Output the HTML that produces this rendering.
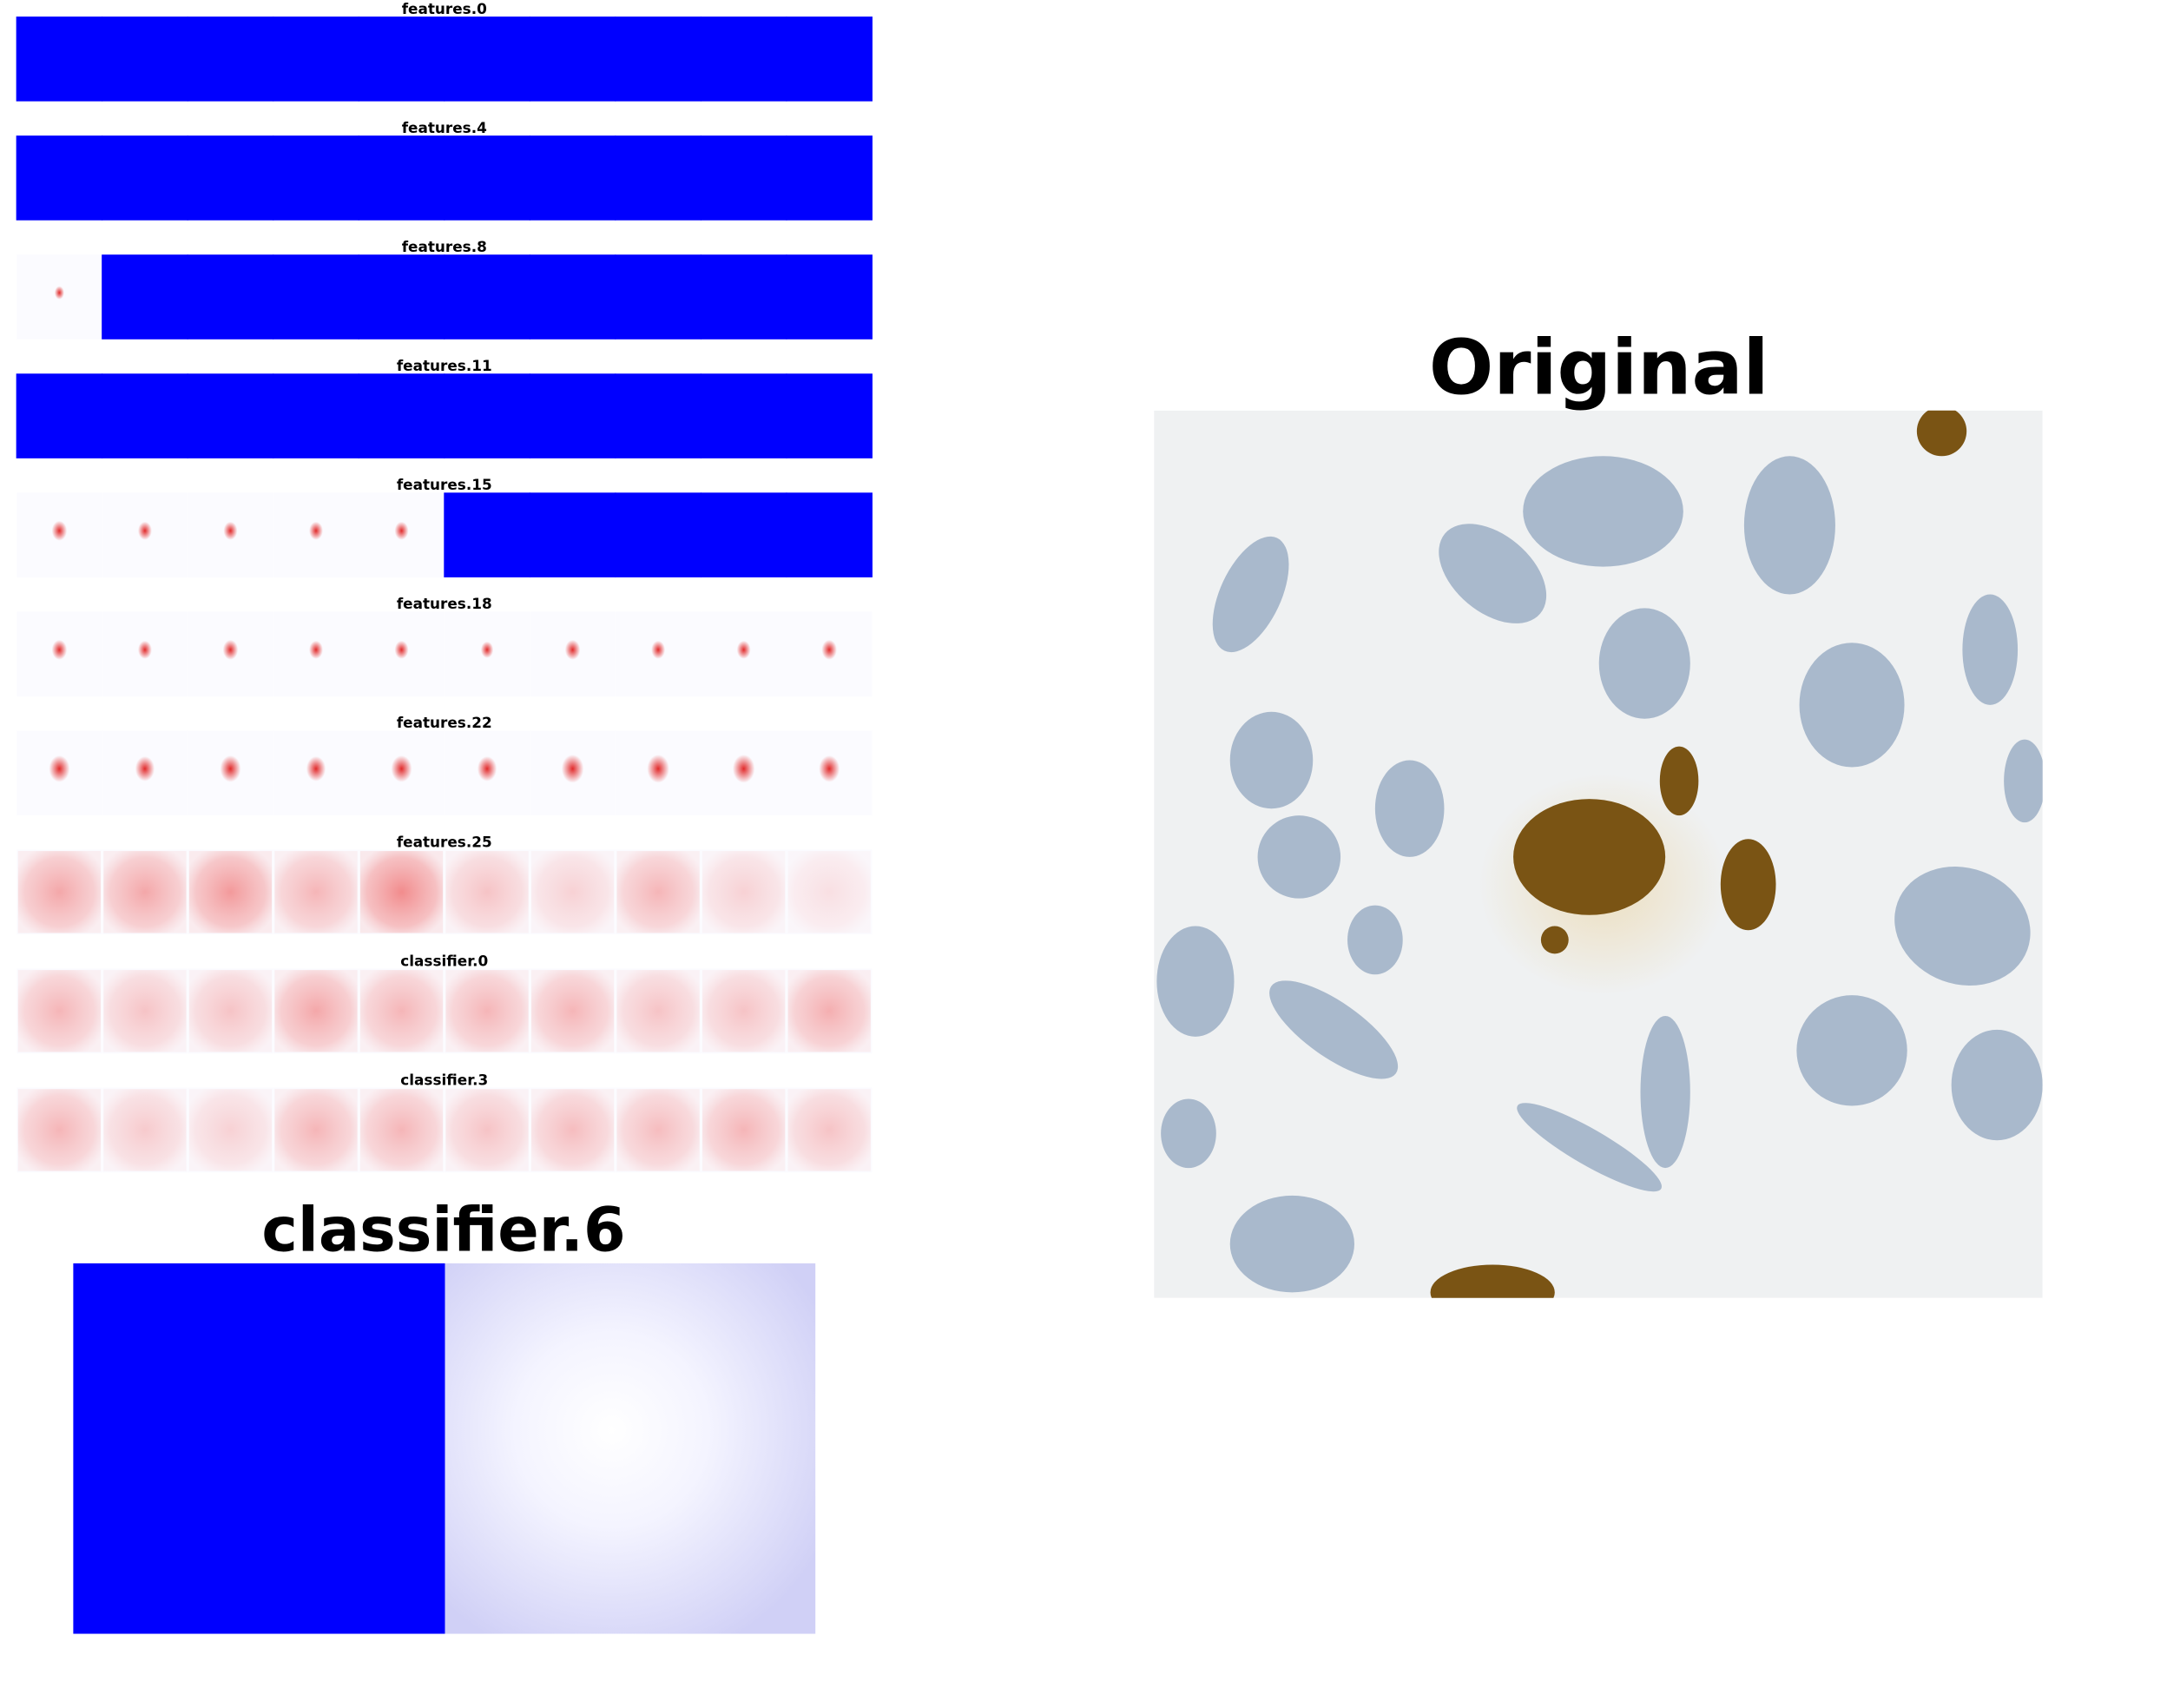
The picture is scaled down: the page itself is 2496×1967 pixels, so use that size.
<!DOCTYPE html>
<html><head><meta charset="utf-8"><style>
html,body{margin:0;padding:0;background:#fff;}
svg{display:block;}
text{font-family:"DejaVu Sans","Liberation Sans",sans-serif;font-weight:bold;fill:#000;}
</style></head><body>
<svg id="fig" width="2496" height="1967" viewBox="0 0 1568 1235.7" xmlns="http://www.w3.org/2000/svg">
<defs>
<radialGradient id="spotR"><stop offset="0" stop-color="#e02020" stop-opacity="0.95"/><stop offset="1" stop-color="#e02020" stop-opacity="0"/></radialGradient>
<radialGradient id="spotB"><stop offset="0" stop-color="#3030d0" stop-opacity="0.8"/><stop offset="1" stop-color="#3030d0" stop-opacity="0"/></radialGradient>
<radialGradient id="diffR" cx="0.5" cy="0.5" r="0.6"><stop offset="0" stop-color="#ee6060" stop-opacity="0.9"/><stop offset="0.7" stop-color="#f08080" stop-opacity="0.6"/><stop offset="1" stop-color="#f4b0b0" stop-opacity="0.3"/></radialGradient>
<radialGradient id="c6g" cx="0.45" cy="0.45" r="0.65"><stop offset="0" stop-color="#ffffff"/><stop offset="0.4" stop-color="#f4f4ff"/><stop offset="1" stop-color="#d0d0f6"/></radialGradient>
<radialGradient id="halo"><stop offset="0" stop-color="#ecdcb8" stop-opacity="0.9"/><stop offset="1" stop-color="#ecdcb8" stop-opacity="0"/></radialGradient>
<clipPath id="origClip"><rect x="835" y="297" width="643" height="642"/></clipPath>
</defs>
<g id="strips"></g>
<g id="c6">
<text x="321" y="905" font-size="44" text-anchor="middle">classifier.6</text>
<rect x="53" y="914" width="269" height="268" fill="#0000ff"/>
<rect x="322" y="914" width="268" height="268" fill="url(#c6g)"/>
</g>
<g id="orig">
<text x="1157" y="285" font-size="55" text-anchor="middle">Original</text>
<g clip-path="url(#origClip)" id="photo">
<rect x="835" y="297" width="643" height="642" fill="#eff1f2"/>
</g>
</g>
</svg>
<script>
const NS="http://www.w3.org/2000/svg";
// ---- data ----
const layerNames=["features.0","features.4","features.8","features.11","features.15","features.18","features.22","features.25","classifier.0","classifier.3"];
const blueFrom=[0,0,1,0,5,10,10,10,10,10];
const layerMode=["spot","spot","spot","spot","spot","spot","spot","diffuse","diffuse","diffuse"];
const redLevel=[
 [0,0,0,0,0,0,0,0,0,0],
 [0,0,0,0,0,0,0,0,0,0],
 [0.15,0,0,0,0,0,0,0,0,0],
 [0,0,0,0,0,0,0,0,0,0],
 [0.35,0.3,0.3,0.3,0.3,0,0,0,0,0],
 [0.35,0.3,0.35,0.3,0.3,0.25,0.35,0.3,0.3,0.35],
 [0.55,0.5,0.55,0.5,0.55,0.5,0.6,0.6,0.6,0.55],
 [0.6,0.6,0.7,0.5,0.8,0.4,0.3,0.5,0.3,0.2],
 [0.5,0.4,0.4,0.6,0.5,0.5,0.5,0.4,0.4,0.55],
 [0.5,0.35,0.3,0.5,0.5,0.4,0.45,0.45,0.5,0.4]
];
const nCells=10;
// ---- layout ----
const X0=12, W=619, TOP0=12, PERIOD=86.1, H=61.3;
const cw=W/nCells;
function xCell(i){return X0+i*cw;}
function yLayer(l){return TOP0+l*PERIOD;}
function el(tag,attrs,parent){const e=document.createElementNS(NS,tag);for(const k in attrs)e.setAttribute(k,attrs[k]);parent.appendChild(e);return e;}
const strips=document.getElementById('strips');
layerNames.forEach((name,l)=>{
  const g=el('g',{},strips);
  
  
  const t=el('text',{x:X0+W/2,y:yLayer(l)-2,'font-size':10.6,'text-anchor':'middle'},g);
  t.textContent=name;
  
  
  for(let i=0;i<nCells;i++){
    const x=xCell(i), y=yLayer(l);
    if(i>=blueFrom[l]){
      const r=el('rect',{x:x-0.3,y:y,width:cw+0.6,height:H,fill:'#0000ff'},g);
      
      
      continue;
    }
    const bg=el('rect',{x:x,y:y,width:cw,height:H,fill:'#fbfbff'},g);
    
    
    const v=redLevel[l][i];
    if(layerMode[l]==='spot'){
      if(v>0){
        const s=el('ellipse',{cx:x+cw*0.5,cy:y+H*0.45,rx:2+v*10,ry:3+v*12,fill:'url(#spotR)'},g);
        
        
      }
    } else {
      const d=el('rect',{x:x+1,y:y+1,width:cw-2,height:H-2,fill:'url(#diffR)',opacity:v},g);
      
      
    }
  }
});
// ---- original photo shapes ----
const nuclei=[[905,430,22,45,25],[1080,415,45,28,40],[1160,370,58,40,0],[1295,380,33,50,0],[1190,480,33,40,0],[1340,510,38,45,0],[1440,470,20,40,0],[920,550,30,35,0],[940,620,30,30,0],[1020,585,25,35,0],[995,680,20,25,0],[865,710,28,40,0],[965,745,55,20,35],[1205,790,18,55,0],[1150,830,60,13,30],[1420,670,50,42,20],[1445,785,33,40,0],[1340,760,40,40,0],[935,900,45,35,0],[1465,565,15,30,0],[860,820,20,25,0]];
const browns=[[1150,620,55,42],[1215,565,14,25],[1265,640,20,33],[1080,935,45,20],[1405,312,18,18],[1125,680,10,10]];
const photo=document.getElementById('photo');
el('ellipse',{cx:1160,cy:640,rx:90,ry:80,fill:'url(#halo)'},photo);
nuclei.forEach(n=>{
  const e=el('ellipse',{cx:n[0],cy:n[1],rx:n[2],ry:n[3],fill:'#a9b9cc',transform:'rotate('+n[4]+' '+n[0]+' '+n[1]+')'},photo);
  
  
});
browns.forEach(b=>{
  const e=el('ellipse',{cx:b[0],cy:b[1],rx:b[2],ry:b[3],fill:'#7a5414'},photo);
  
  
});
</script>
</body></html>
